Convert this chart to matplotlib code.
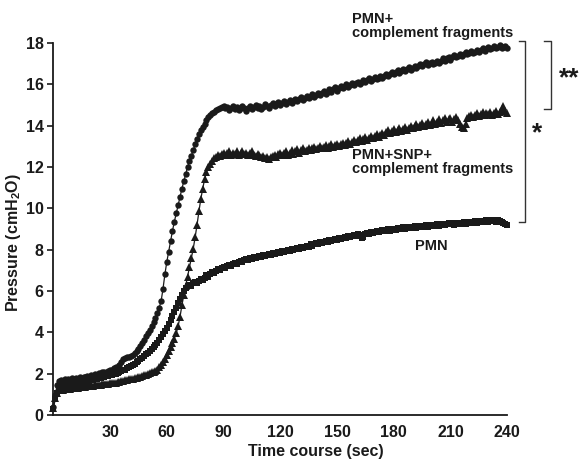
"""Airway pressure time course: PMN, PMN+complement fragments, PMN+SNP+complement fragments."""
import matplotlib
matplotlib.use("Agg")
import matplotlib.pyplot as plt

plt.rcParams["font.family"] = ["Liberation Sans", "DejaVu Sans"]
plt.rcParams["mathtext.fontset"] = "custom"
plt.rcParams["mathtext.rm"] = "Liberation Sans:bold"
plt.rcParams["mathtext.bf"] = "Liberation Sans:bold"

# sampling grid (sec), one reading per second
time_s = list(range(0, 241))

# PMN + complement fragments (circles)
pmn_cf = [
    0.4, 0.95, 1.45, 1.65, 1.7, 1.62, 1.72, 1.68, 1.75, 1.7,
    1.78, 1.72, 1.8, 1.76, 1.84, 1.78, 1.86, 1.82, 1.9, 1.85,
    1.92, 1.88, 1.98, 1.94, 2.02, 1.98, 2.06, 2.1, 2.05, 2.15,
    2.2, 2.16, 2.25, 2.3, 2.28, 2.4, 2.55, 2.7, 2.75, 2.8,
    2.82, 2.85, 2.9, 2.98, 3.08, 3.2, 3.35, 3.5, 3.65, 3.8,
    3.95, 4.1, 4.3, 4.5, 4.7, 4.95, 5.2, 5.5, 6.1, 6.8,
    7.4, 7.9, 8.4, 8.9, 9.35, 9.75, 10.15, 10.55, 10.95, 11.3,
    11.65, 12.0, 12.3, 12.55, 12.8, 13.1, 13.35, 13.6, 13.8, 13.95,
    14.1, 14.25, 14.4, 14.5, 14.6, 14.65, 14.75, 14.8, 14.85, 14.9,
    14.95, 14.85, 14.9, 14.75, 14.85, 14.95, 14.8, 14.9, 14.75, 14.85,
    14.95, 14.85, 14.7, 14.85, 14.95, 14.8, 14.9, 15.0, 14.85, 14.95,
    14.8, 14.9, 15.05, 14.95, 14.85, 15.0, 15.1, 14.95, 15.05, 15.15,
    15.0, 15.1, 15.2, 15.05, 15.15, 15.25, 15.1, 15.2, 15.3, 15.2,
    15.3, 15.4, 15.25, 15.35, 15.45, 15.35, 15.45, 15.55, 15.4, 15.5,
    15.6, 15.5, 15.6, 15.7, 15.55, 15.65, 15.75, 15.65, 15.75, 15.85,
    15.7, 15.8, 15.9, 15.8, 15.9, 16.0, 15.85, 15.95, 16.05, 15.95,
    16.05, 16.1, 16.0, 16.1, 16.2, 16.1, 16.2, 16.3, 16.15, 16.25,
    16.35, 16.25, 16.3, 16.4, 16.3, 16.4, 16.5, 16.4, 16.5, 16.6,
    16.5, 16.6, 16.7, 16.55, 16.65, 16.75, 16.65, 16.75, 16.85, 16.7,
    16.8, 16.9, 16.8, 16.9, 17.0, 16.9, 17.0, 17.1, 16.95, 17.05,
    17.1, 17.0, 17.05, 17.15, 17.05, 17.15, 17.25, 17.15, 17.25, 17.3,
    17.2, 17.3, 17.4, 17.3, 17.35, 17.45, 17.35, 17.45, 17.55, 17.45,
    17.5, 17.6, 17.5, 17.55, 17.65, 17.55, 17.65, 17.75, 17.6, 17.7,
    17.8, 17.7, 17.75, 17.85, 17.75, 17.8, 17.9, 17.75, 17.8, 17.85,
    17.75,
]

# PMN + SNP + complement fragments (triangles)
pmn_snp_cf = [
    0.35, 0.8, 1.05, 1.2, 1.25, 1.22, 1.28, 1.25, 1.3, 1.27,
    1.32, 1.3, 1.34, 1.32, 1.36, 1.34, 1.38, 1.36, 1.4, 1.38,
    1.42, 1.4, 1.44, 1.43, 1.47, 1.45, 1.49, 1.48, 1.52, 1.5,
    1.54, 1.53, 1.57, 1.56, 1.6, 1.6, 1.64, 1.63, 1.67, 1.68,
    1.72, 1.72, 1.76, 1.78, 1.8, 1.83, 1.86, 1.88, 1.92, 1.95,
    1.98, 2.02, 2.06, 2.1, 2.15, 2.2, 2.3, 2.4, 2.55, 2.7,
    2.9, 3.1, 3.3, 3.5, 3.7, 3.95, 4.3, 4.75, 5.3, 5.8,
    6.25, 6.7, 7.15, 7.6, 8.05, 8.6, 9.2, 9.85, 10.45, 10.95,
    11.4, 11.75, 12.0, 12.15, 12.3, 12.45, 12.5, 12.6, 12.55, 12.65,
    12.7, 12.6, 12.7, 12.75, 12.6, 12.7, 12.65, 12.75, 12.6, 12.7,
    12.75, 12.65, 12.7, 12.6, 12.7, 12.75, 12.6, 12.55, 12.65, 12.6,
    12.5, 12.55, 12.45, 12.5, 12.4, 12.5, 12.55, 12.6, 12.5, 12.65,
    12.7, 12.6, 12.7, 12.75, 12.6, 12.7, 12.8, 12.65, 12.75, 12.85,
    12.7, 12.8, 12.9, 12.75, 12.8, 12.9, 12.8, 12.9, 12.95, 12.85,
    12.9, 13.0, 12.9, 12.95, 13.05, 12.9, 13.0, 13.1, 12.95, 13.05,
    13.1, 13.0, 13.1, 13.15, 13.05, 13.15, 13.25, 13.1, 13.2, 13.3,
    13.2, 13.3, 13.4, 13.25, 13.35, 13.45, 13.3, 13.4, 13.5, 13.4,
    13.5, 13.6, 13.45, 13.55, 13.65, 13.55, 13.7, 13.8, 13.65, 13.75,
    13.85, 13.7, 13.8, 13.9, 13.75, 13.85, 13.95, 13.8, 13.9, 14.0,
    13.9, 14.0, 14.1, 13.95, 14.05, 14.15, 14.0, 14.1, 14.2, 14.05,
    14.15, 14.25, 14.1, 14.2, 14.3, 14.15, 14.25, 14.35, 14.2, 14.3,
    14.35, 14.2, 14.3, 14.4, 14.25, 14.1, 13.95, 13.9, 14.1, 14.35,
    14.45, 14.5, 14.4, 14.5, 14.6, 14.45, 14.55, 14.65, 14.5, 14.6,
    14.55, 14.65, 14.5, 14.6, 14.7, 14.55, 14.65, 14.8, 14.95, 14.7,
    14.6,
]

# PMN alone (squares)
pmn = [
    0.3, 0.75, 1.05, 1.25, 1.35, 1.4, 1.42, 1.45, 1.47, 1.5,
    1.52, 1.5, 1.55, 1.55, 1.58, 1.58, 1.62, 1.62, 1.65, 1.66,
    1.7, 1.7, 1.74, 1.75, 1.78, 1.8, 1.83, 1.85, 1.88, 1.9,
    1.93, 1.95, 1.98, 2.0, 2.04, 2.07, 2.12, 2.16, 2.2, 2.25,
    2.3, 2.36, 2.42, 2.48, 2.55, 2.62, 2.7, 2.78, 2.86, 2.94,
    3.02, 3.1, 3.2, 3.3, 3.4, 3.5, 3.62, 3.75, 3.9, 4.05,
    4.2, 4.4, 4.6, 4.8, 5.0, 5.2, 5.4, 5.6, 5.8, 6.0,
    6.15, 6.25, 6.3, 6.25, 6.4, 6.45, 6.4, 6.5, 6.6, 6.55,
    6.65, 6.75, 6.7, 6.8, 6.9, 6.85, 6.95, 7.05, 7.0, 7.1,
    7.15, 7.1, 7.2, 7.25, 7.2, 7.3, 7.35, 7.3, 7.4, 7.45,
    7.4, 7.5, 7.55, 7.5, 7.6, 7.55, 7.65, 7.6, 7.65, 7.7,
    7.65, 7.75, 7.7, 7.75, 7.8, 7.75, 7.85, 7.8, 7.85, 7.9,
    7.85, 7.95, 7.9, 7.95, 8.0, 7.95, 8.05, 8.0, 8.05, 8.1,
    8.05, 8.15, 8.1, 8.15, 8.2, 8.15, 8.25, 8.2, 8.25, 8.3,
    8.25, 8.35, 8.3, 8.35, 8.4, 8.35, 8.45, 8.4, 8.45, 8.5,
    8.45, 8.55, 8.5, 8.55, 8.6, 8.55, 8.65, 8.6, 8.65, 8.7,
    8.65, 8.75, 8.7, 8.55, 8.6, 8.75, 8.8, 8.75, 8.85, 8.8,
    8.85, 8.9, 8.85, 8.9, 8.95, 8.9, 8.95, 9.0, 8.9, 8.95,
    9.0, 8.95, 9.05, 9.0, 9.05, 9.1, 9.0, 9.05, 9.1, 9.05,
    9.1, 9.15, 9.05, 9.1, 9.15, 9.1, 9.15, 9.2, 9.1, 9.15,
    9.2, 9.15, 9.2, 9.25, 9.15, 9.2, 9.25, 9.2, 9.25, 9.3,
    9.25, 9.3, 9.2, 9.25, 9.3, 9.25, 9.3, 9.35, 9.25, 9.3,
    9.35, 9.3, 9.35, 9.4, 9.3, 9.35, 9.4, 9.35, 9.4, 9.45,
    9.35, 9.4, 9.45, 9.4, 9.35, 9.45, 9.4, 9.35, 9.3, 9.25,
    9.2,
]

y_ticks = [0, 2, 4, 6, 8, 10, 12, 14, 16, 18]
x_ticks = [30, 60, 90, 120, 150, 180, 210, 240]

LABEL_FONT = ["Liberation Sans Narrow", "Liberation Sans", "DejaVu Sans"]
INK = "#1a1a1a"


def main():
    fig = plt.figure(figsize=(5.83, 4.63), dpi=100)
    ax = fig.add_axes([0.0914, 0.1037, 0.7786, 0.8035])

    ax.plot(time_s, pmn, marker="s", markersize=5.0, color=INK, lw=0.9,
            markeredgewidth=0, clip_on=False)
    ax.plot(time_s, pmn_snp_cf, marker="^", markersize=5.2, color=INK, lw=0.9,
            markeredgewidth=0, clip_on=False)
    ax.plot(time_s, pmn_cf, marker="o", markersize=4.6, color=INK, lw=0.9,
            markeredgewidth=0, clip_on=False)

    ax.set_xlim(0, 240)
    ax.set_ylim(0, 18)
    ax.set_xticks(x_ticks)
    ax.set_yticks(y_ticks)
    for sp in ("top", "right"):
        ax.spines[sp].set_visible(False)
    for sp in ("left", "bottom"):
        ax.spines[sp].set_linewidth(1.3)
        ax.spines[sp].set_color(INK)
    ax.tick_params(axis="x", length=0, pad=7)
    ax.tick_params(axis="y", length=4, width=1.2, direction="out", pad=3, color=INK)
    for lab in ax.get_xticklabels() + ax.get_yticklabels():
        lab.set_family(LABEL_FONT)
        lab.set_fontweight("bold")
        lab.set_fontsize(11.5)
        lab.set_color(INK)

    ax.set_xlabel("Time course (sec)", fontsize=11.5, fontweight="bold", color=INK)
    ax.xaxis.set_label_coords(0.579, -0.078)
    ax.set_ylabel(r"Pressure (cmH$_\mathbf{2}$O)", fontsize=11.5,
                  fontweight="bold", color=INK)
    ax.yaxis.set_label_coords(-0.067, 0.462)

    txt = dict(fontsize=10.5, fontweight="bold", color=INK, ha="left", va="center",
               linespacing=1.0, clip_on=False)
    ax.text(158, 18.8, "PMN+\ncomplement fragments", **txt)
    ax.text(158, 12.25, "PMN+SNP+\ncomplement fragments", **txt)
    ax.text(200, 8.2, "PMN", fontsize=10.5, fontweight="bold", color=INK,
            ha="center", va="center")

    # significance brackets
    br = dict(color="#333333", lw=1.0, clip_on=False)
    ax.plot([246, 249.5, 249.5, 246], [18.1, 18.1, 9.35, 9.35], **br)
    ax.plot([259.5, 263, 263, 259.5], [18.1, 18.1, 14.8, 14.8], **br)
    ax.text(273, 16.3, "**", fontsize=19, fontweight="bold", color=INK,
            ha="center", va="center", clip_on=False)
    ax.text(256, 13.65, "*", fontsize=19, fontweight="bold", color=INK,
            ha="center", va="center", clip_on=False)

    fig.savefig("out.png", dpi=100)


if __name__ == "__main__":
    main()
